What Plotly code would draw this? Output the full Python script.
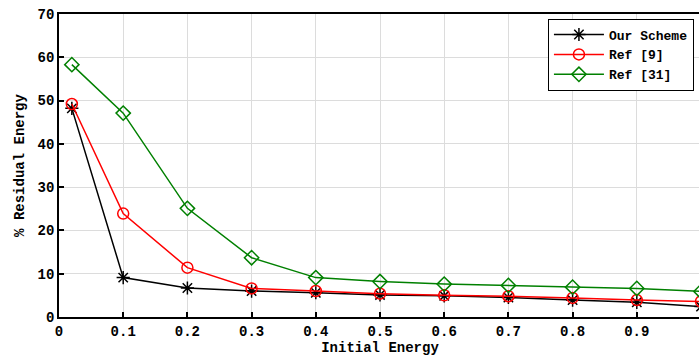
import plotly.graph_objects as go

x_vals = [0.02, 0.1, 0.2, 0.3, 0.4, 0.5, 0.6, 0.7, 0.8, 0.9, 1.0]
our_scheme = [48.2, 9.1, 6.7, 6.0, 5.6, 5.1, 4.9, 4.5, 3.9, 3.4, 2.4]
ref_9 = [49.2, 23.9, 11.4, 6.6, 6.0, 5.4, 5.0, 4.8, 4.4, 3.9, 3.6]
ref_31 = [58.3, 47.1, 25.1, 13.7, 9.1, 8.2, 7.6, 7.3, 6.9, 6.6, 5.9]
series_names = ["Our Scheme", "Ref [9]", "Ref [31]"]
x_ticks = [0, 0.1, 0.2, 0.3, 0.4, 0.5, 0.6, 0.7, 0.8, 0.9, 1]
x_tick_text = ["0", "0.1", "0.2", "0.3", "0.4", "0.5", "0.6", "0.7", "0.8", "0.9", "1"]

FONT = "Liberation Mono"

fig = go.Figure()
styles = [
    ("black", "asterisk-open", 11),
    ("red", "circle-open", 11),
    ("green", "diamond-open", 11),
]
for name, ys, (col, sym, sz) in zip(series_names, [our_scheme, ref_9, ref_31], styles):
    fig.add_trace(go.Scatter(
        x=x_vals, y=ys, name=name, mode="lines+markers",
        line=dict(color=col, width=1.5),
        marker=dict(symbol=sym, size=sz, color=col, line=dict(color=col, width=1.5)),
    ))

axis_common = dict(
    showline=True, linecolor="black", linewidth=1.8, mirror=True,
    ticks="inside", ticklen=5, tickcolor="black", tickwidth=1.5,
    showgrid=True, gridcolor="#dcdcdc", gridwidth=1.2, zeroline=False,
    tickfont=dict(family=FONT, size=14, color="black", weight="bold"),
)

fig.update_layout(
    width=704, height=357,
    margin=dict(l=59, r=1, t=14, b=40),
    plot_bgcolor="white", paper_bgcolor="white",
    font=dict(family=FONT, size=14, color="black", weight="bold"),
    xaxis=dict(range=[0, 1], tickvals=x_ticks, ticktext=x_tick_text,
               title=dict(text="Initial Energy", standoff=3,
                          font=dict(family=FONT, size=14, weight="bold")),
               **axis_common),
    yaxis=dict(range=[0, 70], dtick=10,
               title=dict(text="% Residual Energy", standoff=10,
                          font=dict(family=FONT, size=14, weight="bold")),
               **axis_common),
    legend=dict(x=0.989, y=0.985, xanchor="right", yanchor="top",
                bgcolor="white", bordercolor="black", borderwidth=1,
                itemwidth=50, tracegroupgap=0,
                font=dict(family=FONT, size=13, weight="bold")),
    showlegend=True,
)

fig.write_html("out.html", post_script="document.body.style.overflow='hidden';document.documentElement.style.overflow='hidden';")
